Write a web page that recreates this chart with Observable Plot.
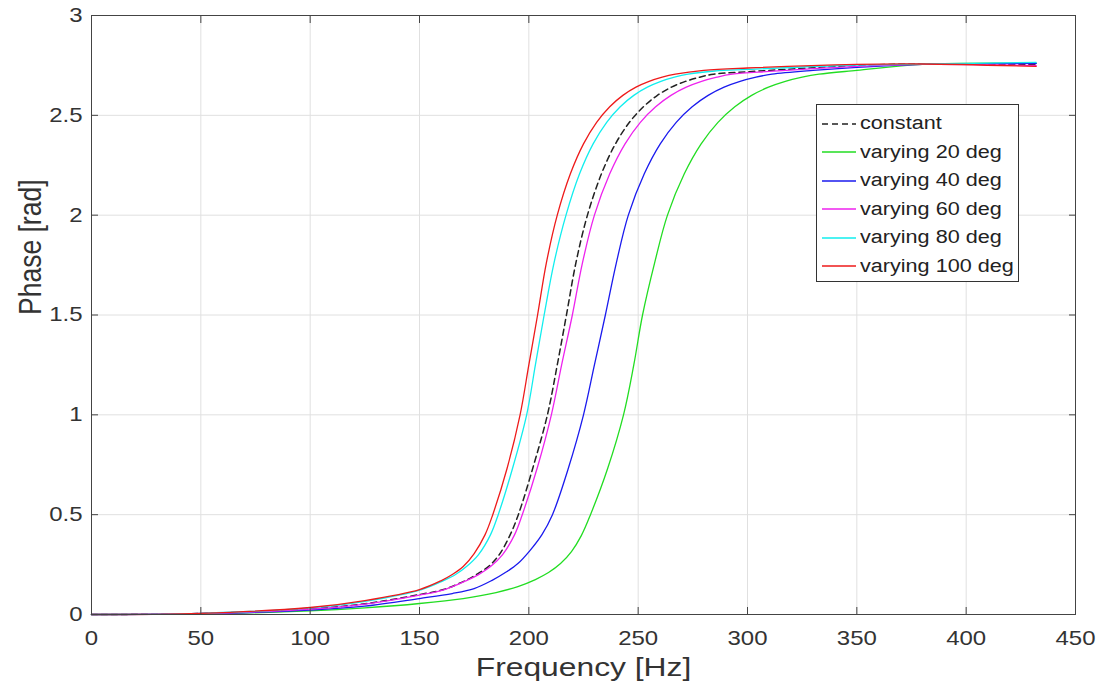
<!DOCTYPE html>
<html>
<head>
<meta charset="utf-8">
<script src="https://cdn.jsdelivr.net/npm/d3@7"></script>
<script src="https://cdn.jsdelivr.net/npm/@observablehq/plot@0.6"></script>
<style>
  html, body { margin: 0; padding: 0; background: #fff; }
  #wrap { position: relative; width: 1101px; height: 691px; }
  #legend {
    position: absolute; left: 816px; top: 104px; width: 203px; height: 178px;
    box-sizing: border-box; border: 1px solid #333; background: #fff;
    font-family: "Liberation Sans", Arial, sans-serif; font-size: 18px; color: #222;
  }
  #legend .row { position: absolute; left: 0; height: 28px; display: flex; align-items: center; }
  #legend svg { display: block; margin-left: 5px; }
  #legend span { display: inline-block; margin-left: 4px; transform: scaleX(1.2); transform-origin: left center; white-space: nowrap; }
</style>
</head>
<body>
<div id="wrap"></div>
<script>
// ---- data ----
const seriesNames = ["constant", "varying 20 deg", "varying 40 deg", "varying 60 deg", "varying 80 deg", "varying 100 deg"];
const seriesColors = ["#222222", "#22dd22", "#1a1aee", "#ee22ee", "#11eeee", "#ee1a1a"];

const freqConst  = [0, 50, 100, 125, 150, 161, 171, 176, 181.5, 186.5, 191.5, 195.2, 202, 208.5, 213, 217.2, 221.5, 226.8, 233.2, 239.6, 246, 252.4, 258.8, 265.2, 271.6, 278, 284.4, 300, 350, 380, 432];
const phaseConst = [0, 0.005, 0.028, 0.054, 0.1, 0.125, 0.17, 0.2, 0.24, 0.3, 0.4, 0.5, 0.74, 1.0, 1.25, 1.5, 1.76, 2.0, 2.207, 2.357, 2.465, 2.543, 2.6, 2.641, 2.67, 2.691, 2.706, 2.718, 2.75, 2.757, 2.755];

const freq20  = [0, 50, 100, 125, 150, 170, 185, 195, 203, 209, 214.5, 219.5, 224, 228.2, 236, 243.3, 248, 252, 257.5, 263.4, 271.1, 278.8, 286.5, 294.2, 301.9, 309.6, 317.3, 325, 332.7, 350, 380, 432];
const phase20 = [0, 0.003, 0.018, 0.033, 0.055, 0.08, 0.11, 0.14, 0.175, 0.21, 0.255, 0.315, 0.395, 0.5, 0.73, 1.0, 1.25, 1.5, 1.76, 2.0, 2.207, 2.357, 2.465, 2.543, 2.6, 2.641, 2.67, 2.691, 2.706, 2.725, 2.755, 2.76];

const freq40  = [0, 50, 100, 125, 150, 165, 175, 183, 190, 195, 200.5, 206, 210.8, 218, 225, 230, 235, 240, 245.5, 252.8, 260.1, 267.4, 274.7, 282, 289.3, 296.6, 303.9, 311.2, 330, 350, 380, 432];
const phase40 = [0, 0.004, 0.022, 0.042, 0.08, 0.105, 0.13, 0.17, 0.215, 0.255, 0.32, 0.4, 0.5, 0.73, 1.0, 1.25, 1.5, 1.76, 2.0, 2.207, 2.357, 2.465, 2.543, 2.6, 2.641, 2.67, 2.691, 2.706, 2.725, 2.74, 2.755, 2.76];

const freq60  = [0, 50, 100, 125, 150, 161.5, 171.5, 177, 182.5, 188, 193.5, 197, 204, 210.3, 215, 219.9, 224.5, 230, 237, 244, 251, 258, 265, 272, 279, 286, 293, 310, 350, 380, 432];
const phase60 = [0, 0.005, 0.027, 0.052, 0.097, 0.125, 0.17, 0.2, 0.24, 0.3, 0.4, 0.5, 0.74, 1.0, 1.25, 1.5, 1.76, 2.0, 2.207, 2.357, 2.465, 2.543, 2.6, 2.641, 2.67, 2.691, 2.706, 2.72, 2.745, 2.755, 2.75];

const freq80  = [0, 50, 100, 125, 151, 161, 166.5, 171.5, 177, 182.5, 186, 192.5, 199, 203, 207, 211.5, 217, 223.2, 229.4, 235.6, 241.8, 248, 254.2, 260.4, 266.6, 272.8, 285, 300, 350, 380, 432];
const phase80 = [0, 0.006, 0.033, 0.066, 0.125, 0.17, 0.2, 0.24, 0.3, 0.4, 0.5, 0.73, 1.0, 1.25, 1.5, 1.76, 2.0, 2.207, 2.357, 2.465, 2.543, 2.6, 2.641, 2.67, 2.691, 2.706, 2.722, 2.73, 2.752, 2.757, 2.765];

const freq100  = [0, 50, 100, 125, 150, 160, 165, 170, 175, 180, 183.5, 190, 196, 200, 204, 208, 213, 219, 225, 231, 237, 243, 249, 255, 261, 267, 280, 300, 350, 380, 432];
const phase100 = [0, 0.006, 0.035, 0.07, 0.125, 0.17, 0.2, 0.24, 0.305, 0.4, 0.5, 0.73, 1.0, 1.25, 1.5, 1.76, 2.0, 2.207, 2.357, 2.465, 2.543, 2.6, 2.641, 2.67, 2.691, 2.706, 2.725, 2.737, 2.755, 2.757, 2.745];

const xTicks = [0, 50, 100, 150, 200, 250, 300, 350, 400, 450];
const yTicks = [0, 0.5, 1, 1.5, 2, 2.5, 3];
const xLabel = "Frequency [Hz]";
const yLabel = "Phase [rad]";

// ---- build table ----
const seriesData = [
  [seriesNames[0], freqConst, phaseConst],
  [seriesNames[1], freq20, phase20],
  [seriesNames[2], freq40, phase40],
  [seriesNames[3], freq60, phase60],
  [seriesNames[4], freq80, phase80],
  [seriesNames[5], freq100, phase100]
];
const data = seriesData.flatMap(([name, f, p]) => f.map((v, i) => ({series: name, freq: v, phase: p[i]})));
const dashed = data.filter(d => d.series === "constant");
const solid = data.filter(d => d.series !== "constant");

const axisFont = 20;
const chart = Plot.plot({
  width: 1101,
  height: 691,
  marginLeft: 91,
  marginRight: 26,
  marginTop: 15,
  marginBottom: 77,
  style: {fontFamily: "'Liberation Sans', Arial, sans-serif", fontSize: axisFont + "px", color: "#333", background: "#fff"},
  x: {domain: [0, 450], label: null},
  y: {domain: [0, 3], label: null},
  color: {domain: seriesNames, range: seriesColors},
  marks: [
    Plot.gridX(xTicks, {stroke: "#e0e0e0", strokeOpacity: 1, strokeWidth: 1}),
    Plot.gridY(yTicks, {stroke: "#e0e0e0", strokeOpacity: 1, strokeWidth: 1}),
    Plot.line(dashed, {x: "freq", y: "phase", stroke: "series", strokeWidth: 1.5, strokeDasharray: "6,4", curve: "catmull-rom"}),
    Plot.line(solid, {x: "freq", y: "phase", z: "series", stroke: "series", strokeWidth: 1.3, curve: "catmull-rom"}),
    Plot.frame({stroke: "#444", strokeWidth: 1}),
    Plot.axisX(xTicks, {anchor: "bottom", tickSize: -7, tickPadding: 23, stroke: "#444", tickFormat: d => String(d), fontSize: axisFont}),
    Plot.axisX(xTicks, {anchor: "top", tickSize: -7, stroke: "#444", tickFormat: () => ""}),
    Plot.axisY(yTicks, {anchor: "left", tickSize: -7, tickPadding: 16, stroke: "#444", tickFormat: d => String(d), fontSize: axisFont}),
    Plot.axisY(yTicks, {anchor: "right", tickSize: -7, stroke: "#444", tickFormat: () => ""}),
    Plot.text([xLabel], {frameAnchor: "bottom", dy: 61, fontSize: 26.5, fill: "#333"}),
    Plot.text([yLabel], {frameAnchor: "left", dx: -61, rotate: -90, fontSize: 26.5, fill: "#333"})
  ]
});

// horizontal stretch of the text, as in the reference image
chart.querySelectorAll("text").forEach(t => {
  const tr = t.getAttribute("transform") || "";
  if (/rotate/.test(tr)) t.setAttribute("transform", tr + " scale(1,1.2)");
  else t.setAttribute("transform", tr + " scale(1.2,1)");
});

const wrap = document.getElementById("wrap");
wrap.appendChild(chart);

// legend
const legend = document.createElement("div");
legend.id = "legend";
seriesNames.forEach((name, i) => {
  const row = document.createElement("div");
  row.className = "row";
  row.style.top = (4.5 + i * 28.5) + "px";
  const isDash = name === "constant";
  row.innerHTML = `<svg width="34" height="10"><line x1="0" y1="5" x2="34" y2="5" stroke="${seriesColors[i]}" stroke-width="${isDash ? 1.5 : 1.3}" ${isDash ? 'stroke-dasharray="6,4"' : ''}/></svg><span>${name}</span>`;
  legend.appendChild(row);
});
wrap.appendChild(legend);
</script>
</body>
</html>
